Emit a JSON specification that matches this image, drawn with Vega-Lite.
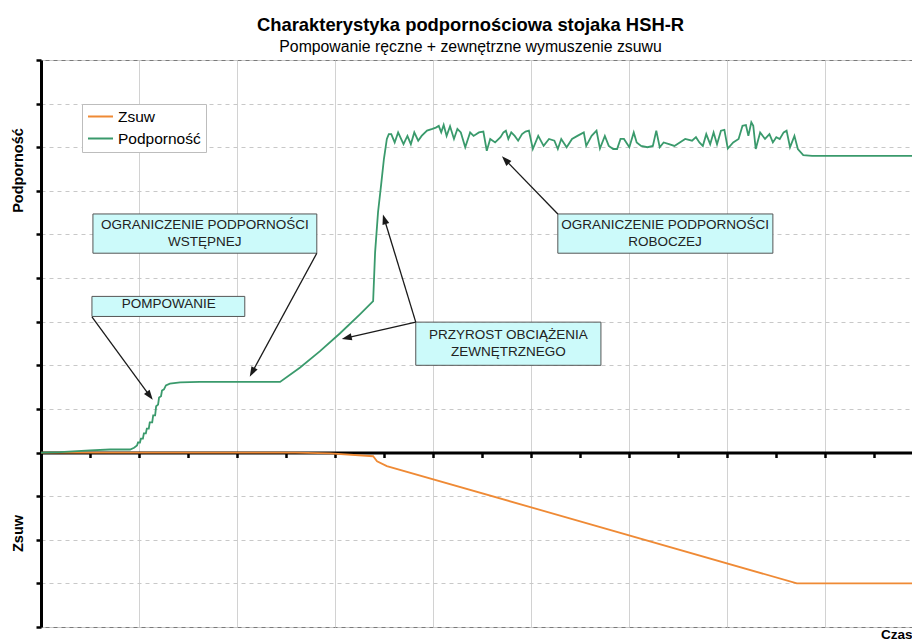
{
  "$schema": "https://vega.github.io/schema/vega-lite/v6.json",
  "width": 871,
  "height": 567,
  "autosize": {"type": "none"},
  "padding": {"left": 41, "top": 60, "right": 0, "bottom": 14},
  "background": "white",
  "config": {"font": "Liberation Sans", "view": {"stroke": "#7a7a7a", "strokeWidth": 1}},
  "title": {
    "text": "Charakterystyka podpornościowa stojaka HSH-R",
    "subtitle": "Pompowanie ręczne + zewnętrzne wymuszenie zsuwu",
    "anchor": "middle",
    "frame": "group",
    "font": "Liberation Sans",
    "fontSize": 18.4,
    "fontWeight": "bold",
    "color": "black",
    "subtitleFont": "Liberation Sans",
    "subtitleFontSize": 15.8,
    "subtitleColor": "black",
    "subtitlePadding": 6,
    "offset": 4,
    "dx": -6
  },
  "datasets": {
    "lines": [
      {"t": 0, "v": 0, "s": "Zsuw"},
      {"t": 5.2, "v": 0, "s": "Zsuw"},
      {"t": 5.9, "v": -0.02, "s": "Zsuw"},
      {"t": 6.78, "v": -0.085, "s": "Zsuw"},
      {"t": 6.86, "v": -0.2, "s": "Zsuw"},
      {"t": 7.06, "v": -0.31, "s": "Zsuw"},
      {"t": 15.43, "v": -3.0, "s": "Zsuw"},
      {"t": 17.78, "v": -3.0, "s": "Zsuw"},
      {"t": 0, "v": 0, "s": "Podporność"},
      {"t": 0.39, "v": 0.01, "s": "Podporność"},
      {"t": 1.0, "v": 0.05, "s": "Podporność"},
      {"t": 1.41, "v": 0.07, "s": "Podporność"},
      {"t": 1.82, "v": 0.07, "s": "Podporność"},
      {"t": 1.9, "v": 0.11, "s": "Podporność"},
      {"t": 1.96, "v": 0.16, "s": "Podporność"},
      {"t": 1.98, "v": 0.23, "s": "Podporność"},
      {"t": 2.02, "v": 0.23, "s": "Podporność"},
      {"t": 2.04, "v": 0.32, "s": "Podporność"},
      {"t": 2.08, "v": 0.32, "s": "Podporność"},
      {"t": 2.1, "v": 0.44, "s": "Podporność"},
      {"t": 2.14, "v": 0.44, "s": "Podporność"},
      {"t": 2.16, "v": 0.55, "s": "Podporność"},
      {"t": 2.2, "v": 0.55, "s": "Podporność"},
      {"t": 2.22, "v": 0.69, "s": "Podporność"},
      {"t": 2.27, "v": 0.69, "s": "Podporność"},
      {"t": 2.29, "v": 0.85, "s": "Podporność"},
      {"t": 2.33, "v": 0.85, "s": "Podporność"},
      {"t": 2.35, "v": 1.06, "s": "Podporność"},
      {"t": 2.39, "v": 1.1, "s": "Podporność"},
      {"t": 2.41, "v": 1.26, "s": "Podporność"},
      {"t": 2.45, "v": 1.29, "s": "Podporność"},
      {"t": 2.47, "v": 1.42, "s": "Podporność"},
      {"t": 2.51, "v": 1.45, "s": "Podporność"},
      {"t": 2.55, "v": 1.54, "s": "Podporność"},
      {"t": 2.63, "v": 1.58, "s": "Podporność"},
      {"t": 2.84, "v": 1.61, "s": "Podporność"},
      {"t": 3.24, "v": 1.62, "s": "Podporność"},
      {"t": 4.06, "v": 1.62, "s": "Podporność"},
      {"t": 4.88, "v": 1.62, "s": "Podporność"},
      {"t": 5.29, "v": 1.95, "s": "Podporność"},
      {"t": 5.69, "v": 2.32, "s": "Podporność"},
      {"t": 6.1, "v": 2.73, "s": "Podporność"},
      {"t": 6.51, "v": 3.17, "s": "Podporność"},
      {"t": 6.78, "v": 3.47, "s": "Podporność"},
      {"t": 6.82, "v": 4.59, "s": "Podporność"},
      {"t": 6.88, "v": 5.51, "s": "Podporność"},
      {"t": 6.94, "v": 6.11, "s": "Podporność"},
      {"t": 7.0, "v": 6.73, "s": "Podporność"},
      {"t": 7.06, "v": 7.19, "s": "Podporność"},
      {"t": 7.1, "v": 7.3, "s": "Podporność"},
      {"t": 7.15, "v": 7.3, "s": "Podporność"},
      {"t": 7.22, "v": 7.11, "s": "Podporność"},
      {"t": 7.29, "v": 7.34, "s": "Podporność"},
      {"t": 7.4, "v": 7.07, "s": "Podporność"},
      {"t": 7.48, "v": 7.26, "s": "Podporność"},
      {"t": 7.55, "v": 7.07, "s": "Podporność"},
      {"t": 7.62, "v": 7.34, "s": "Podporność"},
      {"t": 7.7, "v": 7.15, "s": "Podporność"},
      {"t": 7.77, "v": 7.26, "s": "Podporność"},
      {"t": 7.88, "v": 7.38, "s": "Podporność"},
      {"t": 7.99, "v": 7.42, "s": "Podporność"},
      {"t": 8.06, "v": 7.45, "s": "Podporność"},
      {"t": 8.12, "v": 7.49, "s": "Podporność"},
      {"t": 8.17, "v": 7.34, "s": "Podporność"},
      {"t": 8.22, "v": 7.51, "s": "Podporność"},
      {"t": 8.28, "v": 7.26, "s": "Podporność"},
      {"t": 8.35, "v": 7.48, "s": "Podporność"},
      {"t": 8.43, "v": 7.19, "s": "Podporność"},
      {"t": 8.5, "v": 7.42, "s": "Podporność"},
      {"t": 8.57, "v": 7.34, "s": "Podporność"},
      {"t": 8.66, "v": 7.0, "s": "Podporność"},
      {"t": 8.76, "v": 7.34, "s": "Podporność"},
      {"t": 8.83, "v": 7.26, "s": "Podporność"},
      {"t": 8.94, "v": 7.34, "s": "Podporność"},
      {"t": 9.03, "v": 7.36, "s": "Podporność"},
      {"t": 9.1, "v": 6.92, "s": "Podporność"},
      {"t": 9.17, "v": 7.19, "s": "Podporność"},
      {"t": 9.27, "v": 7.11, "s": "Podporność"},
      {"t": 9.38, "v": 7.23, "s": "Podporność"},
      {"t": 9.44, "v": 7.34, "s": "Podporność"},
      {"t": 9.49, "v": 7.38, "s": "Podporność"},
      {"t": 9.54, "v": 7.19, "s": "Podporność"},
      {"t": 9.6, "v": 7.34, "s": "Podporność"},
      {"t": 9.67, "v": 7.26, "s": "Podporność"},
      {"t": 9.74, "v": 7.15, "s": "Podporność"},
      {"t": 9.82, "v": 7.3, "s": "Podporność"},
      {"t": 9.89, "v": 7.36, "s": "Podporność"},
      {"t": 9.96, "v": 7.38, "s": "Podporność"},
      {"t": 10.04, "v": 6.96, "s": "Podporność"},
      {"t": 10.15, "v": 7.26, "s": "Podporność"},
      {"t": 10.26, "v": 7.03, "s": "Podporność"},
      {"t": 10.37, "v": 7.19, "s": "Podporność"},
      {"t": 10.48, "v": 7.15, "s": "Podporność"},
      {"t": 10.55, "v": 6.96, "s": "Podporność"},
      {"t": 10.62, "v": 7.19, "s": "Podporność"},
      {"t": 10.73, "v": 7.0, "s": "Podporność"},
      {"t": 10.84, "v": 7.19, "s": "Podporność"},
      {"t": 10.95, "v": 7.26, "s": "Podporność"},
      {"t": 11.08, "v": 7.34, "s": "Podporność"},
      {"t": 11.13, "v": 7.03, "s": "Podporność"},
      {"t": 11.24, "v": 7.26, "s": "Podporność"},
      {"t": 11.34, "v": 7.38, "s": "Podporność"},
      {"t": 11.41, "v": 6.97, "s": "Podporność"},
      {"t": 11.51, "v": 7.26, "s": "Podporność"},
      {"t": 11.59, "v": 7.03, "s": "Podporność"},
      {"t": 11.68, "v": 6.96, "s": "Podporność"},
      {"t": 11.76, "v": 6.96, "s": "Podporność"},
      {"t": 11.83, "v": 7.19, "s": "Podporność"},
      {"t": 11.9, "v": 7.19, "s": "Podporność"},
      {"t": 12.01, "v": 7.0, "s": "Podporność"},
      {"t": 12.1, "v": 7.34, "s": "Podporność"},
      {"t": 12.16, "v": 7.11, "s": "Podporność"},
      {"t": 12.25, "v": 7.03, "s": "Podporność"},
      {"t": 12.38, "v": 7.0, "s": "Podporność"},
      {"t": 12.49, "v": 7.03, "s": "Podporność"},
      {"t": 12.56, "v": 7.38, "s": "Podporność"},
      {"t": 12.63, "v": 7.0, "s": "Podporność"},
      {"t": 12.71, "v": 7.11, "s": "Podporność"},
      {"t": 12.82, "v": 7.07, "s": "Podporność"},
      {"t": 12.93, "v": 7.03, "s": "Podporność"},
      {"t": 13.04, "v": 7.11, "s": "Podporność"},
      {"t": 13.15, "v": 7.19, "s": "Podporność"},
      {"t": 13.29, "v": 7.15, "s": "Podporność"},
      {"t": 13.37, "v": 7.23, "s": "Podporność"},
      {"t": 13.44, "v": 7.11, "s": "Podporność"},
      {"t": 13.51, "v": 7.03, "s": "Podporność"},
      {"t": 13.58, "v": 7.3, "s": "Podporność"},
      {"t": 13.66, "v": 7.07, "s": "Podporność"},
      {"t": 13.73, "v": 7.34, "s": "Podporność"},
      {"t": 13.8, "v": 7.07, "s": "Podporność"},
      {"t": 13.88, "v": 7.38, "s": "Podporność"},
      {"t": 13.95, "v": 7.4, "s": "Podporność"},
      {"t": 14.02, "v": 6.97, "s": "Podporność"},
      {"t": 14.13, "v": 7.11, "s": "Podporność"},
      {"t": 14.24, "v": 7.19, "s": "Podporność"},
      {"t": 14.32, "v": 7.49, "s": "Podporność"},
      {"t": 14.39, "v": 7.51, "s": "Podporność"},
      {"t": 14.44, "v": 7.26, "s": "Podporność"},
      {"t": 14.5, "v": 7.57, "s": "Podporność"},
      {"t": 14.54, "v": 7.49, "s": "Podporność"},
      {"t": 14.59, "v": 6.96, "s": "Podporność"},
      {"t": 14.68, "v": 7.34, "s": "Podporność"},
      {"t": 14.78, "v": 7.19, "s": "Podporność"},
      {"t": 14.87, "v": 7.3, "s": "Podporność"},
      {"t": 14.94, "v": 7.11, "s": "Podporność"},
      {"t": 15.01, "v": 7.23, "s": "Podporność"},
      {"t": 15.08, "v": 7.19, "s": "Podporność"},
      {"t": 15.16, "v": 7.34, "s": "Podporność"},
      {"t": 15.22, "v": 7.38, "s": "Podporność"},
      {"t": 15.29, "v": 7.0, "s": "Podporność"},
      {"t": 15.38, "v": 7.26, "s": "Podporność"},
      {"t": 15.45, "v": 6.96, "s": "Podporność"},
      {"t": 15.56, "v": 6.82, "s": "Podporność"},
      {"t": 15.74, "v": 6.8, "s": "Podporność"},
      {"t": 17.78, "v": 6.8, "s": "Podporność"}
    ],
    "boxes": [
      {"x1": 1.06, "x2": 5.63, "y1": 5.47, "y2": 4.57},
      {"x1": 1.04, "x2": 4.16, "y1": 3.58, "y2": 3.12},
      {"x1": 7.65, "x2": 11.43, "y1": 2.99, "y2": 2.0},
      {"x1": 10.55, "x2": 14.94, "y1": 5.47, "y2": 4.57}
    ],
    "labels": [
      {"x": 3.345, "y": 5.21, "t": "OGRANICZENIE PODPORNOŚCI\nWSTĘPNEJ"},
      {"x": 2.61, "y": 3.4, "t": "POMPOWANIE"},
      {"x": 9.54, "y": 2.69, "t": "PRZYROST OBCIĄŻENIA\nZEWNĘTRZNEGO"},
      {"x": 12.74, "y": 5.21, "t": "OGRANICZENIE PODPORNOŚCI\nROBOCZEJ"}
    ],
    "arrows": [
      {"x": 1.04, "y": 3.11, "x2": 2.22, "y2": 1.3, "ang": 143.7},
      {"x": 5.63, "y": 4.57, "x2": 4.31, "y2": 1.84, "ang": 208.6},
      {"x": 7.65, "y": 2.99, "x2": 7.01, "y2": 5.35, "ang": 343},
      {"x": 7.65, "y": 2.99, "x2": 6.24, "y2": 2.63, "ang": 257.8},
      {"x": 10.55, "y": 5.47, "x2": 9.48, "y2": 6.71, "ang": 316}
    ]
  },
  "resolve": {"axis": {"x": "independent", "y": "independent"}},
  "layer": [
    {
      "data": {"name": "boxes"},
      "mark": {"type": "rect", "fill": "#ccfafa", "stroke": "#555555", "strokeWidth": 1},
      "encoding": {
        "x": {
          "field": "x1", "type": "quantitative",
          "scale": {"domain": [0, 17.78], "nice": false, "zero": false},
          "axis": {
            "orient": "bottom", "values": [2, 4, 6, 8, 10, 12, 14, 16],
            "domain": false, "ticks": false, "labels": false,
            "grid": true, "gridColor": "#d2d2d2", "gridWidth": 1,
            "title": "Czas", "titleFontSize": 13.5, "titleFontWeight": "bold", "titleColor": "black",
            "titleAnchor": "end", "titleAlign": "right", "titleBaseline": "top", "titleX": 871, "titleY": 0
          }
        },
        "x2": {"field": "x2"},
        "y": {
          "field": "y1", "type": "quantitative",
          "scale": {"domain": [-4, 9], "nice": false, "zero": false},
          "axis": {
            "orient": "left", "domain": false, "ticks": false, "labels": false, "grid": false,
            "title": "Zsuw", "titleFontSize": 14.5, "titleFontWeight": "bold", "titleColor": "black",
            "titleAngle": -90, "titleAlign": "center", "titleBaseline": "middle", "titleX": -23, "titleY": 473
          }
        },
        "y2": {"field": "y2"}
      }
    },
    {
      "data": {"name": "lines"},
      "mark": {"type": "line", "strokeWidth": 1.8},
      "encoding": {
        "x": {
          "field": "t", "type": "quantitative",
          "scale": {"domain": [0, 17.78], "nice": false, "zero": false},
          "axis": {
            "orient": "bottom", "offset": -174.5, "values": [0, 1, 2, 3, 4, 5, 6, 7, 8, 9, 10, 11, 12, 13, 14, 15, 16, 17],
            "domain": true, "domainColor": "black", "domainWidth": 3,
            "ticks": true, "tickColor": "black", "tickWidth": 2.5, "tickSize": 5,
            "labels": false, "grid": false, "title": null
          }
        },
        "y": {
          "field": "v", "type": "quantitative",
          "scale": {"domain": [-4, 9], "nice": false, "zero": false},
          "axis": {
            "orient": "left", "values": [-4, -3, -2, -1, 0, 1, 2, 3, 4, 5, 6, 7, 8, 9],
            "domain": true, "domainColor": "black", "domainWidth": 3,
            "ticks": true, "tickColor": "black", "tickWidth": 2.5, "tickSize": 5,
            "labels": false,
            "grid": true, "gridColor": "#c8c8c8", "gridDash": [4, 4], "gridWidth": 1,
            "title": "Podporność", "titleFontSize": 14.5, "titleFontWeight": "bold", "titleColor": "black",
            "titleAngle": -90, "titleAlign": "center", "titleBaseline": "middle", "titleX": -23, "titleY": 110
          }
        },
        "color": {
          "field": "s", "type": "nominal",
          "scale": {"domain": ["Zsuw", "Podporność"], "range": ["#ef8a35", "#3a9a6c"]},
          "legend": {
            "orient": "none", "legendX": 41, "legendY": 44, "title": null,
            "symbolType": "stroke", "symbolSize": 625, "symbolStrokeWidth": 2,
            "labelFontSize": 15.5, "labelColor": "black", "labelOffset": 4, "labelFont": "Liberation Sans",
            "clipHeight": 15, "padding": 5, "rowPadding": 6, "strokeColor": "#bdbdbd", "fillColor": "white"
          }
        }
      }
    },
    {
      "data": {"name": "labels"},
      "mark": {"type": "text", "fontSize": 13.5, "color": "#222222", "align": "center", "baseline": "middle", "lineBreak": "\n", "lineHeight": 17},
      "encoding": {
        "x": {"field": "x", "type": "quantitative", "scale": {"domain": [0, 17.78], "nice": false, "zero": false}, "axis": null},
        "y": {"field": "y", "type": "quantitative", "scale": {"domain": [-4, 9], "nice": false, "zero": false}, "axis": null},
        "text": {"field": "t"}
      }
    },
    {
      "data": {"name": "arrows"},
      "mark": {"type": "rule", "color": "#1a1a1a", "strokeWidth": 1.3},
      "encoding": {
        "x": {"field": "x", "type": "quantitative", "scale": {"domain": [0, 17.78], "nice": false, "zero": false}, "axis": null},
        "y": {"field": "y", "type": "quantitative", "scale": {"domain": [-4, 9], "nice": false, "zero": false}, "axis": null},
        "x2": {"field": "x2"},
        "y2": {"field": "y2"}
      }
    },
    {
      "data": {"name": "arrows"},
      "mark": {"type": "point", "shape": "M0,-1L0.7,1L-0.7,1Z", "filled": true, "color": "#1a1a1a", "size": 100, "opacity": 1},
      "encoding": {
        "x": {"field": "x2", "type": "quantitative", "scale": {"domain": [0, 17.78], "nice": false, "zero": false}, "axis": null},
        "y": {"field": "y2", "type": "quantitative", "scale": {"domain": [-4, 9], "nice": false, "zero": false}, "axis": null},
        "angle": {"field": "ang", "type": "quantitative", "scale": null}
      }
    }
  ]
}
